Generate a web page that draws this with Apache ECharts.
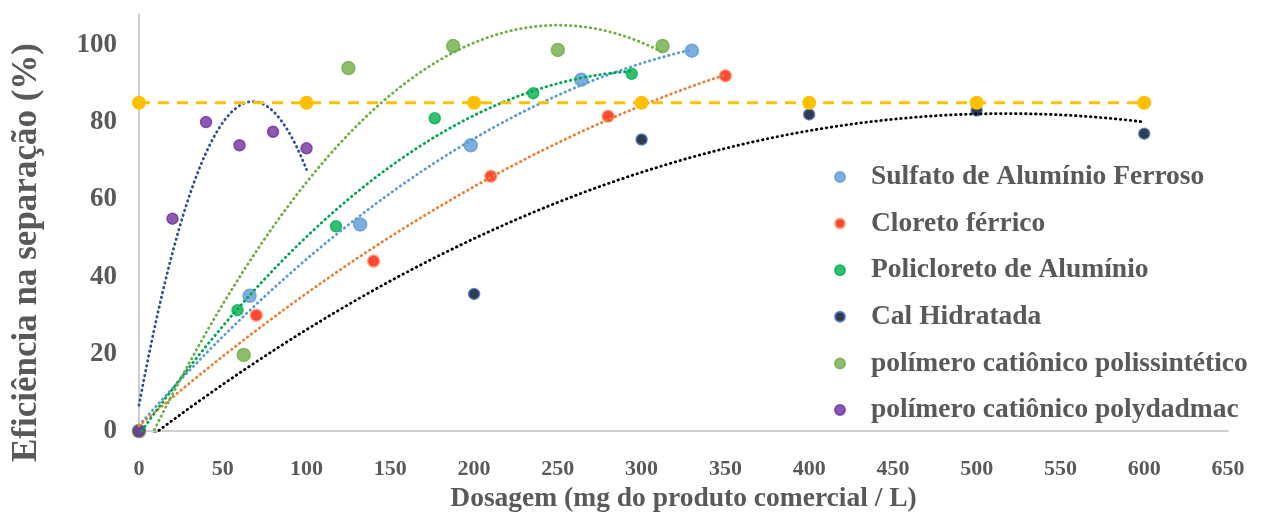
<!DOCTYPE html>
<html>
<head>
<meta charset="utf-8">
<script src="https://cdn.jsdelivr.net/npm/echarts@6/dist/echarts.min.js"></script>
<style>
html,body{margin:0;padding:0;background:#fff;}
#chart{width:1265px;height:513px;}
</style>
</head>
<body>
<div id="chart"></div>
<script>
// ---- data ----
const seriesNames = [
  'Sulfato de Alumínio Ferroso',
  'Cloreto férrico',
  'Policloreto de Alumínio',
  'Cal Hidratada',
  'polímero catiônico polissintético',
  'polímero catiônico polydadmac'
];
const sulfatoX = [0, 66, 132, 198, 264, 330];
const sulfatoY = [0, 35, 53.5, 74, 91, 98.5];
const cloretoX = [0, 70, 140, 210, 280, 350];
const cloretoY = [0, 30, 44, 66, 81.5, 92];
const policloretoX = [0, 58.8, 117.6, 176.5, 235.3, 294.1];
const policloretoY = [0, 31.3, 53, 81, 87.5, 92.5];
const calX = [0, 200, 300, 400, 500, 600];
const calY = [0, 35.5, 75.5, 82, 83, 77];
const polissinteticoX = [0, 62.5, 125, 187.5, 250, 312.5];
const polissinteticoY = [0, 19.7, 94, 99.7, 98.7, 99.7];
const polydadmacX = [0, 20, 40, 60, 80, 100];
const polydadmacY = [0, 55, 80, 74, 77.5, 73.2];
const referenciaX = [0, 100, 200, 300, 400, 500, 600];
const referenciaY = [85, 85, 85, 85, 85, 85, 85];
const xTicks = [0, 50, 100, 150, 200, 250, 300, 350, 400, 450, 500, 550, 600, 650];
const yTicks = [0, 20, 40, 60, 80, 100];

// ---- styles ----
const markerColors = ['#5b9bd5', '#ff1a00', '#00b050', '#000a26', '#70ad47', '#7030a0'];
const markerBorders = ['#5b9bd5', '#f4a47a', '#00b050', '#4a76c0', '#70ad47', '#7030a0'];
const markerSizes = [13, 12, 11, 11, 13, 11];
const trendColors = ['#5b9bd5', '#ed7d31', '#00a650', '#000000', '#70ad47', '#2f4f8f'];
const FONT = "'Liberation Serif', 'Times New Roman', serif";
const GRAY = '#595959';

const xs = [sulfatoX, cloretoX, policloretoX, calX, polissinteticoX, polydadmacX];
const ys = [sulfatoY, cloretoY, policloretoY, calY, polissinteticoY, polydadmacY];

// least-squares 2nd-order polynomial (like a spreadsheet trendline)
function polyFit2(x, y) {
  let n = x.length, s1=0,s2=0,s3=0,s4=0,t0=0,t1=0,t2=0;
  for (let i=0;i<n;i++){const a=x[i],b=y[i];s1+=a;s2+=a*a;s3+=a*a*a;s4+=a*a*a*a;t0+=b;t1+=a*b;t2+=a*a*b;}
  const M=[[n,s1,s2,t0],[s1,s2,s3,t1],[s2,s3,s4,t2]];
  for(let c=0;c<3;c++){
    let p=c;for(let r=c+1;r<3;r++) if(Math.abs(M[r][c])>Math.abs(M[p][c])) p=r;
    [M[c],M[p]]=[M[p],M[c]];
    for(let r=0;r<3;r++){ if(r===c) continue; const f=M[r][c]/M[c][c]; for(let k=c;k<4;k++) M[r][k]-=f*M[c][k]; }
  }
  return [M[0][3]/M[0][0], M[1][3]/M[1][1], M[2][3]/M[2][2]];
}
function trendData(x, y) {
  const [c0,c1,c2] = polyFit2(x, y);
  const lo = Math.min(...x), hi = Math.max(...x), out = [];
  const N = 200;
  for (let i=0;i<=N;i++){ const t = lo + (hi-lo)*i/N; out.push([t, c0 + c1*t + c2*t*t]); }
  return out;
}

const series = [];
seriesNames.forEach((name, i) => {
  series.push({
    name: name, type: 'scatter', symbol: 'circle', symbolSize: markerSizes[i],
    data: xs[i].map((v, k) => [v, ys[i][k]]),
    itemStyle: { color: markerColors[i], borderColor: markerBorders[i], borderWidth: 1.5 },
    z: 3
  });
});
seriesNames.forEach((name, i) => {
  series.push({
    name: name + ' (tendência)', type: 'line', showSymbol: false, symbol: 'none', smooth: false,
    data: trendData(xs[i], ys[i]), clip: true,
    lineStyle: { color: trendColors[i], width: 2.8, type: [0.5, 4.5], cap: 'round' },
    silent: true, z: 4
  });
});
series.push({
  name: 'Referência', type: 'line', symbol: 'circle', symbolSize: 14,
  data: referenciaX.map((v, k) => [v, referenciaY[k]]),
  itemStyle: { color: '#ffc000' },
  lineStyle: { color: '#ffc000', width: 3, type: [11, 8] },
  z: 5
});

const chart = echarts.init(document.getElementById('chart'), null, { renderer: 'canvas' });
chart.setOption({
  backgroundColor: '#ffffff',
  animation: false,
  grid: { left: 139, right: 37, top: 14, bottom: 82, containLabel: false, outerBoundsMode: 'none' },
  legend: {
    data: seriesNames,
    orient: 'vertical', left: 829, top: 158,
    icon: 'circle', itemWidth: 10, itemHeight: 10, itemGap: 18.6,
    textStyle: { fontFamily: FONT, fontWeight: 'bold', fontSize: 27.5, color: GRAY, lineHeight: 27, padding: [0,0,0,21] }
  },
  xAxis: {
    type: 'value', min: 0, max: 650, interval: 50,
    name: 'Dosagem (mg do produto comercial / L)', nameLocation: 'middle', nameGap: 54,
    nameTextStyle: { fontFamily: FONT, fontWeight: 'bold', fontSize: 27.5, color: GRAY },
    axisLine: { show: true, lineStyle: { color: '#bfbfbf', width: 1.5 } },
    axisTick: { show: false }, splitLine: { show: false },
    axisLabel: { margin: 27, fontFamily: FONT, fontWeight: 'bold', fontSize: 22, color: GRAY,
      customValues: xTicks }
  },
  yAxis: {
    type: 'value', min: 0, max: 108, interval: 20,
    name: 'Eficiência na separação (%)', nameLocation: 'middle', nameGap: 95, nameRotate: 90,
    nameTextStyle: { fontFamily: FONT, fontWeight: 'bold', fontSize: 35, color: GRAY, padding: [0, 60, 0, 0] },
    axisLine: { show: true, lineStyle: { color: '#bfbfbf', width: 1.5 } },
    axisTick: { show: false }, splitLine: { show: false },
    axisLabel: { margin: 22, fontFamily: FONT, fontWeight: 'bold', fontSize: 27, color: GRAY,
      customValues: yTicks }
  },
  series: series
});
</script>
</body>
</html>
